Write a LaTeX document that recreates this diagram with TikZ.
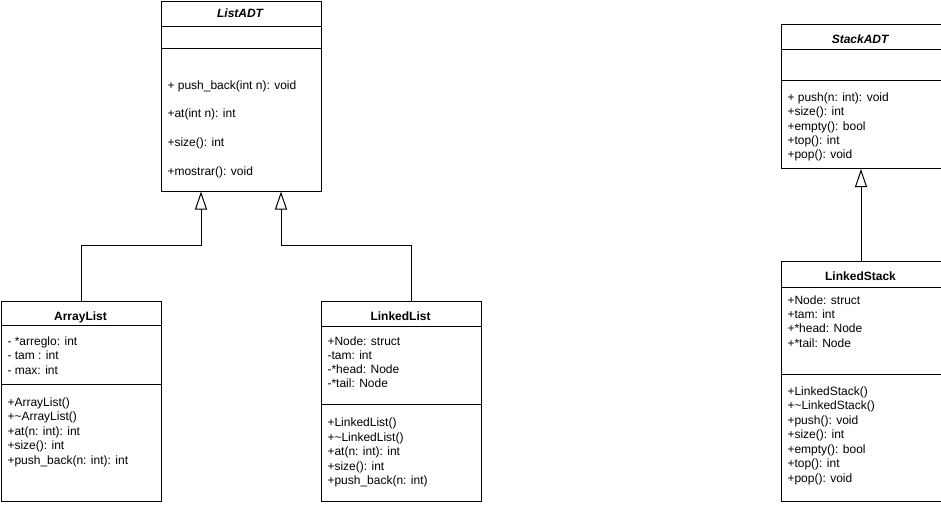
\documentclass[tikz,border=0pt]{standalone}
\usepackage{fontspec}
\setmainfont{Liberation Sans}
\usetikzlibrary{arrows.meta}
\tikzset{
  uml/.style={x=1pt,y=-1pt,line width=1pt},
}

\begin{document}
\begin{tikzpicture}[uml,
   cls/.style={draw,minimum width=160pt,anchor=north west,inner sep=0pt},
   ttl/.style={anchor=base,inner sep=0pt,font=\fontsize{12}{14}\selectfont\bfseries},
   mem/.style={anchor=base west,inner sep=0pt,font=\fontsize{12}{14}\selectfont},
   gen/.style={-{Triangle[open,length=18pt,width=12pt]}}]
  \useasboundingbox (0,0) rectangle (941,504);
  % ListADT
  \node[cls,minimum height=190pt] (listadt) at (160.5,0.5) {};
  \draw (listadt.north west) ++(0,25.5) -- ++(160,0);
  \draw (listadt.north west) ++(0,47.5) -- ++(160,0);
  \node[ttl] (listadt-t) at (240.5,17.5) {\textit{ListADT}};
  \foreach \t [count=\i from 0] in {+ push\_back(int n): void,+at(int n): int,+size(): int,+mostrar(): void}
    \node[mem] (listadt-m\i) at (167,89+28.8*\i) {\t};
  % ArrayList
  \node[cls,minimum height=200pt] (arraylist) at (0.5,300.5) {};
  \draw (arraylist.north west) ++(0,24.5) -- ++(160,0);
  \draw (arraylist.north west) ++(0,83.5) -- ++(160,0);
  \node[ttl] (arraylist-t) at (80.5,320) {ArrayList};
  \foreach \t [count=\i from 0] in {- *arreglo: int,- tam : int,- max: int}
    \node[mem] (arraylist-a\i) at (7,345+14.5*\i) {\t};
  \foreach \t [count=\i from 0] in {+ArrayList(),+\textasciitilde ArrayList(),+at(n: int): int,+size(): int,+push\_back(n: int): int}
    \node[mem] (arraylist-m\i) at (7,406+14.5*\i) {\t};
  % LinkedList
  \node[cls,minimum height=200pt] (linkedlist) at (320.5,300.5) {};
  \draw (linkedlist.north west) ++(0,25.5) -- ++(160,0);
  \draw (linkedlist.north west) ++(0,103.5) -- ++(160,0);
  \node[ttl] (linkedlist-t) at (400.5,320) {LinkedList};
  \foreach \t [count=\i from 0] in {+Node: struct,-tam: int,-*head: Node,-*tail: Node}
    \node[mem] (linkedlist-a\i) at (327,345+14.3*\i) {\t};
  \foreach \t [count=\i from 0] in {+LinkedList(),+\textasciitilde LinkedList(),+at(n: int): int,+size(): int,+push\_back(n: int)}
    \node[mem] (linkedlist-m\i) at (327,426.5+14.6*\i) {\t};
  % StackADT
  \node[cls,minimum height=144.5pt] (stackadt) at (780.5,23.5) {};
  \draw (stackadt.north west) ++(0,25.5) -- ++(160,0);
  \draw (stackadt.north west) ++(0,56.5) -- ++(160,0);
  \node[ttl] (stackadt-t) at (860.5,43) {\textit{StackADT}};
  \foreach \t [count=\i from 0] in {+ push(n: int): void,+size(): int,+empty(): bool,+top(): int,+pop(): void}
    \node[mem] (stackadt-m\i) at (787,101.7+14.2*\i) {\t};
  % LinkedStack
  \node[cls,minimum height=240pt] (linkedstack) at (780.5,260.5) {};
  \draw (linkedstack.north west) ++(0,26.5) -- ++(160,0);
  \draw (linkedstack.north west) ++(0,113.5) -- ++(160,0);
  \node[ttl] (linkedstack-t) at (860.5,280) {LinkedStack};
  \foreach \t [count=\i from 0] in {+Node: struct,+tam: int,+*head: Node,+*tail: Node}
    \node[mem] (linkedstack-a\i) at (787,304+14.4*\i) {\t};
  \foreach \t [count=\i from 0] in {+LinkedStack(),+\textasciitilde LinkedStack(),+push(): void,+size(): int,+empty(): bool,+top(): int,+pop(): void}
    \node[mem] (linkedstack-m\i) at (787,395+14.55*\i) {\t};
  % generalizations
  \draw[gen] (arraylist.north) -- ++(0,-55.5) -| ([xshift=-40pt]listadt.south);
  \draw[gen] ([xshift=10.5pt]linkedlist.north) -- ++(0,-55.5) -| ([xshift=40pt]listadt.south);
  \draw[gen] (linkedstack.north) -- (stackadt.south);
\end{tikzpicture}
\end{document}
